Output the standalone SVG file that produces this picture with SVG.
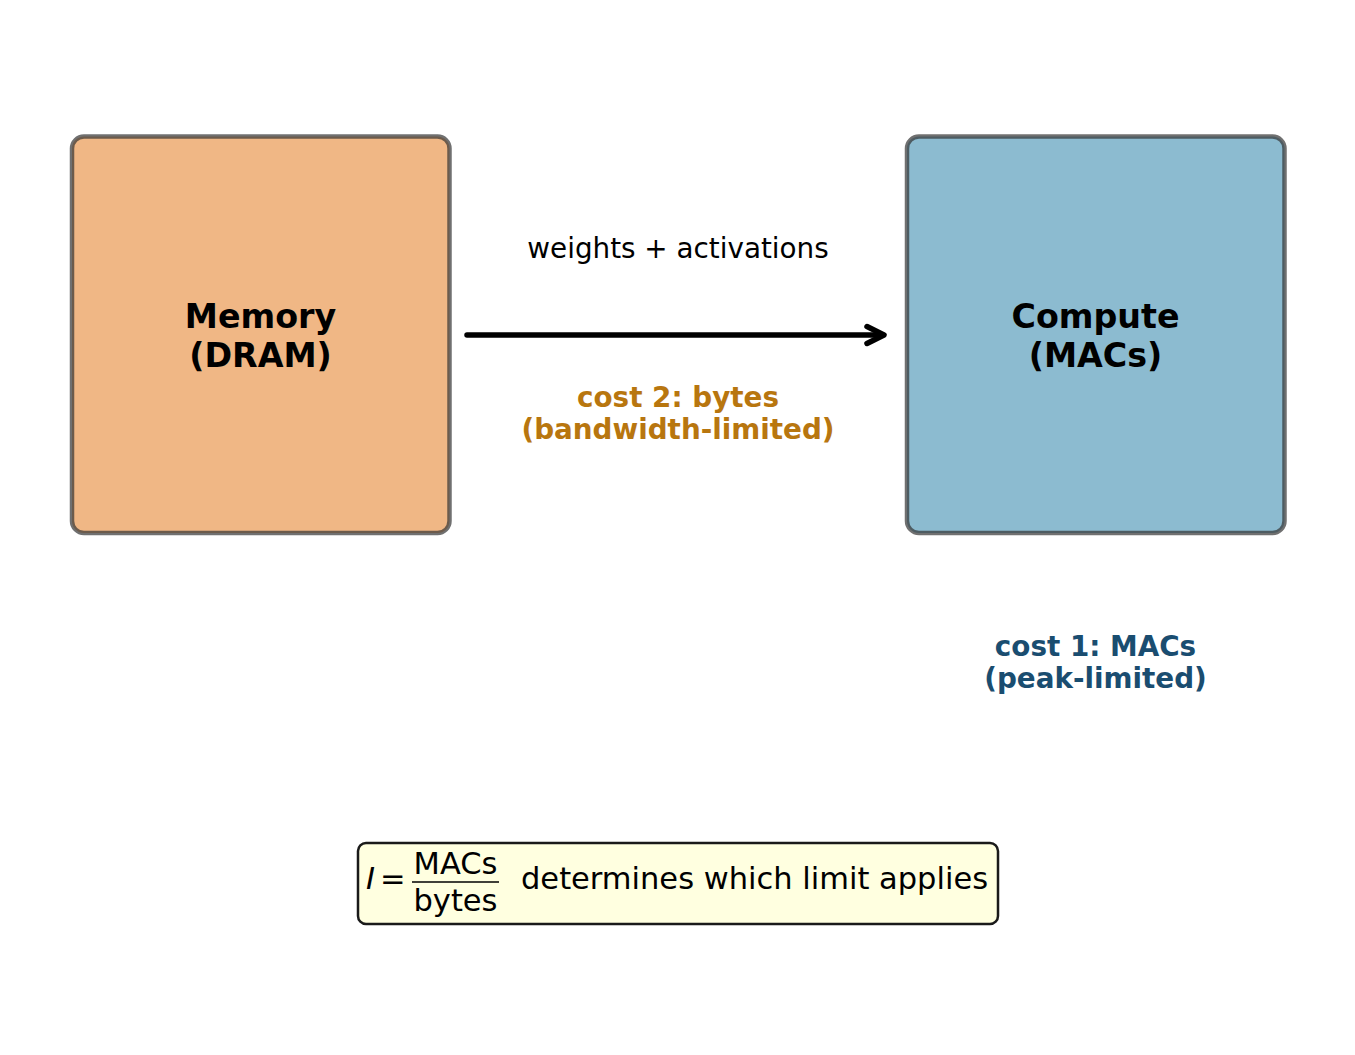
<svg xmlns="http://www.w3.org/2000/svg" width="1355" height="1055" viewBox="0 0 1355 1055">
<style>
  text { font-family: "DejaVu Sans", "Liberation Sans", sans-serif; }
  .box { stroke: #333333; stroke-opacity: 0.7; stroke-width: 4.5; }
  .title { font-size: 33.3px; font-weight: bold; fill: #000; text-anchor: middle; }
  .lbl { font-size: 27.8px; text-anchor: middle; }
  .bold { font-weight: bold; }
  .f { font-size: 30.5px; fill: #000; }
</style>
<rect width="1355" height="1055" fill="#ffffff"/>
<g id="memory">
  <rect class="box" x="72" y="136.5" width="377.5" height="396.5" rx="12" fill="#F0B785"/>
  <text class="title" x="260.5" y="328">Memory</text>
  <text class="title" x="260.5" y="367">(DRAM)</text>
</g>
<g id="compute">
  <rect class="box" x="907" y="136.5" width="377.5" height="396.5" rx="12" fill="#8CBBD0"/>
  <text class="title" x="1095.5" y="328">Compute</text>
  <text class="title" x="1095.5" y="367">(MACs)</text>
</g>
<g id="connectors">
  <line x1="467" y1="335" x2="882" y2="335" stroke="#000" stroke-width="5.5" stroke-linecap="round"/>
  <polyline points="867,326.5 884,335 867,343.5" fill="none" stroke="#000" stroke-width="5.5" stroke-linecap="round" stroke-linejoin="round"/>
  <text class="lbl" x="678" y="258" fill="#000">weights + activations</text>
  <text class="lbl bold" x="678" y="407" fill="#B8760F">cost 2: bytes</text>
  <text class="lbl bold" x="678" y="439" fill="#B8760F">(bandwidth-limited)</text>
</g>
<g id="cost1">
  <text class="lbl bold" x="1095.5" y="656" fill="#1A4D70">cost 1: MACs</text>
  <text class="lbl bold" x="1095.5" y="688" fill="#1A4D70">(peak-limited)</text>
</g>
<g id="formula">
  <rect x="358" y="843" width="640" height="81" rx="8" fill="#FFFFE0" stroke="#1a1a1a" stroke-width="2.5"/>
  <text class="f" x="366" y="889" font-style="italic">I</text>
  <text class="f" x="380" y="889">=</text>
  <text class="f" x="455.5" y="874" text-anchor="middle">MACs</text>
  <line x1="412" y1="882" x2="499" y2="882" stroke="#000" stroke-width="1.5"/>
  <text class="f" x="455.5" y="911" text-anchor="middle">bytes</text>
  <text class="f" x="521" y="889">determines which limit applies</text>
</g>
</svg>
